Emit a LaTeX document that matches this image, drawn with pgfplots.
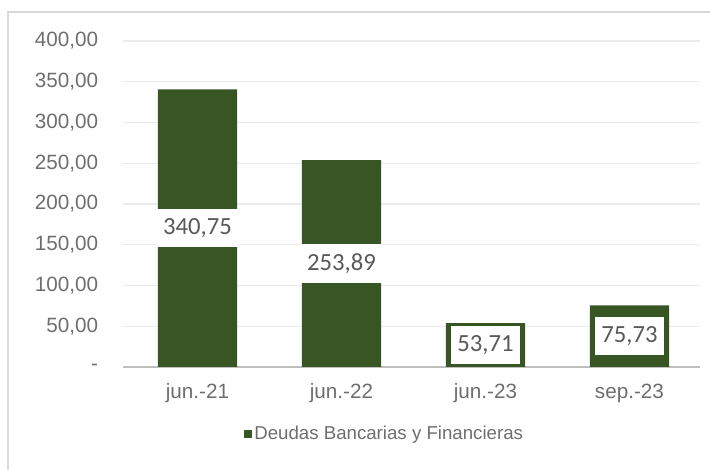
\documentclass[border=0pt]{standalone}
\usepackage{fontspec}
\setmainfont{Liberation Sans}
\newfontfamily\calib{Carlito}
\usepackage{pgfplots}
\pgfplotsset{compat=1.18}
\definecolor{barcol}{HTML}{375623}
\definecolor{txtgray}{HTML}{595959}
\definecolor{ticktxt}{HTML}{6E6E6E}
\definecolor{gridgray}{HTML}{EBEBEB}
\definecolor{axgray}{HTML}{BFBFBF}
\definecolor{framegray}{HTML}{D9D9D9}
\begin{document}
\begin{tikzpicture}
\begin{axis}[
  at={(92.25pt,77.25pt)}, anchor=south west,
  scale only axis, width=432.75pt, height=244.5pt,
  ybar, bar width=0.55,
  xmin=-0.517, xmax=3.49, ymin=0, ymax=400,
  xtick=data, xticklabels={jun.-21,jun.-22,jun.-23,sep.-23},
  ytick={0,50,100,150,200,250,300,350,400},
  yticklabels={-\hspace{-1.5pt},{50,00},{100,00},{150,00},{200,00},{250,00},{300,00},{350,00},{400,00}},
  axis x line*=bottom, axis y line*=left,
  y axis line style={draw=none},
  x axis line style={axgray, line width=1pt},
  major tick length=0pt,
  ymajorgrids, grid style={gridgray, line width=0.8pt},
  tick label style={font=\fontsize{15.5}{18}\selectfont, text=ticktxt},
  xticklabel style={anchor=base, yshift=-24pt},
  yticklabel style={anchor=east, inner sep=0pt, xshift=-18.5pt},
  nodes near coords={\pgfmathprintnumber[use comma,fixed,fixed zerofill,precision=2,assume math mode=true]{\pgfplotspointmeta}},
  visualization depends on=y \as \rawy,
  nodes near coords style={anchor=center, shift={(axis direction cs:0,-\rawy/2)}, fill=white, inner xsep=4.5pt, inner ysep=0pt, minimum height=29pt, font=\calib\fontsize{18.5}{20}\selectfont, text=txtgray},
  legend style={at={(0.454,-0.2055)}, anchor=center, draw=none, fill=none, font=\fontsize{14}{16}\selectfont, text=ticktxt, inner sep=0pt},
  legend image code/.code={\fill[barcol] (0pt,-2.8pt) rectangle (5.6pt,2.8pt);},
]
\addplot[fill=barcol, draw=none] coordinates {(0,340.75) (1,253.89) (2,53.71) (3,75.73)};
\addlegendentry{Deudas Bancarias y Financieras}
\end{axis}
\draw[framegray, line width=1.2pt] (6pt,0pt) -- (6pt,343.5pt) -- (532.5pt,343.5pt);
\pgfresetboundingbox
\path (0,0) rectangle (532.5pt,352.5pt);
\end{tikzpicture}
\end{document}
